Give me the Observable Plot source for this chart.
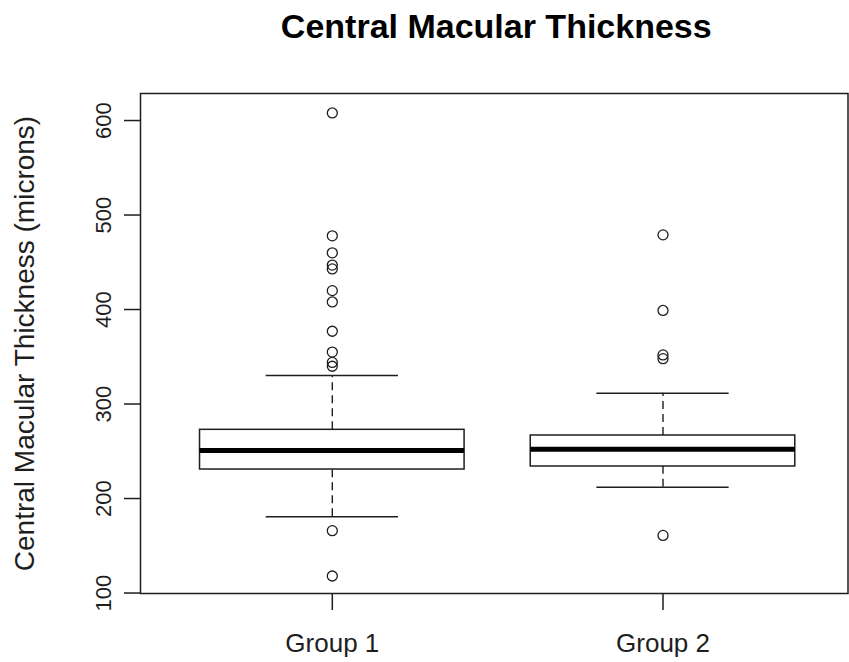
<!DOCTYPE html>
<html>
<head>
<meta charset="utf-8">
<script src="https://cdn.jsdelivr.net/npm/d3@7"></script>
<script src="https://cdn.jsdelivr.net/npm/@observablehq/plot@0.6"></script>
<style>
  html, body { margin: 0; padding: 0; background: #fff; }
  svg { display: block; }
</style>
</head>
<body>
<div id="chart"></div>
<script>
// Central macular thickness (microns) by group: box-plot summaries and outliers
const groups = ["Group 1", "Group 2"];
const positions = [1, 2];
const lowerWhisker = [180.6, 212.0];
const q1 = [230.7, 233.9];
const median = [250.8, 252.2];
const q3 = [272.7, 266.7];
const upperWhisker = [330.2, 311.4];
const outliersGroup1 = [608, 478, 460, 447, 443, 420, 408, 377, 355, 344, 340, 166, 118];
const outliersGroup2 = [479, 399, 352, 348, 161];
const yTicks = [100, 200, 300, 400, 500, 600];

const title = "Central Macular Thickness";
const yLabel = "Central Macular Thickness (microns)";

const boxes = groups.map((g, i) => ({
  group: g, pos: positions[i],
  lo: lowerWhisker[i], q1: q1[i], med: median[i], q3: q3[i], hi: upperWhisker[i]
}));
const outliers = [
  ...outliersGroup1.map(v => ({pos: positions[0], value: v})),
  ...outliersGroup2.map(v => ({pos: positions[1], value: v}))
];

const ink = "#1e1e1e";
const boxHalf = 0.4, capHalf = 0.2;

const chart = Plot.plot({
  width: 849,
  height: 662,
  marginLeft: 140,
  marginRight: 1.5,
  marginTop: 93,
  marginBottom: 69,
  style: {fontFamily: "'Liberation Sans', Arial, sans-serif", color: ink, background: "#fff"},
  x: {type: "linear", domain: [0.42, 2.5594], axis: null},
  y: {domain: [99.5, 628.6], axis: null},
  marks: [
    // whiskers (dashed) from box edges to caps
    Plot.ruleX(boxes, {x: "pos", y1: "q3", y2: "hi", stroke: ink, strokeWidth: 1.4, strokeDasharray: "8,5"}),
    Plot.ruleX(boxes, {x: "pos", y1: "lo", y2: "q1", stroke: ink, strokeWidth: 1.4, strokeDasharray: "8,5"}),
    // whisker caps
    Plot.ruleY(boxes, {y: "hi", x1: d => d.pos - capHalf, x2: d => d.pos + capHalf, stroke: ink, strokeWidth: 1.5}),
    Plot.ruleY(boxes, {y: "lo", x1: d => d.pos - capHalf, x2: d => d.pos + capHalf, stroke: ink, strokeWidth: 1.5}),
    // boxes
    Plot.rect(boxes, {x1: d => d.pos - boxHalf, x2: d => d.pos + boxHalf, y1: "q1", y2: "q3", fill: "#fff", stroke: ink, strokeWidth: 1.5}),
    // medians
    Plot.ruleY(boxes, {y: "med", x1: d => d.pos - boxHalf, x2: d => d.pos + boxHalf, stroke: "#000", strokeWidth: 5}),
    // outliers
    Plot.dot(outliers, {x: "pos", y: "value", r: 5, stroke: ink, strokeWidth: 1.3, fill: "none"}),
    // plot frame
    Plot.frame({stroke: ink, strokeWidth: 1.5}),
    // y axis: tick marks, then rotated tick labels
    Plot.axisY({ticks: yTicks, tickSize: 16, text: null, stroke: ink, strokeWidth: 1.5, label: null}),
    Plot.text(yTicks, {y: d => d, text: d => String(d), frameAnchor: "left", rotate: -90, textAnchor: "middle",
      dx: -37, fontSize: 22, fill: ink}),
    // x axis
    Plot.axisX({ticks: positions, tickFormat: d => groups[d - 1], tickSize: 17, tickPadding: 23,
      fontSize: 26, stroke: ink, strokeWidth: 1.5, fill: ink, label: null}),
    // axis title
    Plot.text([yLabel], {frameAnchor: "left", rotate: -90, textAnchor: "middle", dx: -115, fontSize: 28, fill: ink}),
    // chart title
    Plot.text([title], {frameAnchor: "top", dx: 2, dy: -56, lineAnchor: "bottom", fontSize: 34, fontWeight: "bold", fill: "#000"})
  ]
});
document.getElementById("chart").appendChild(chart);
</script>
</body>
</html>
